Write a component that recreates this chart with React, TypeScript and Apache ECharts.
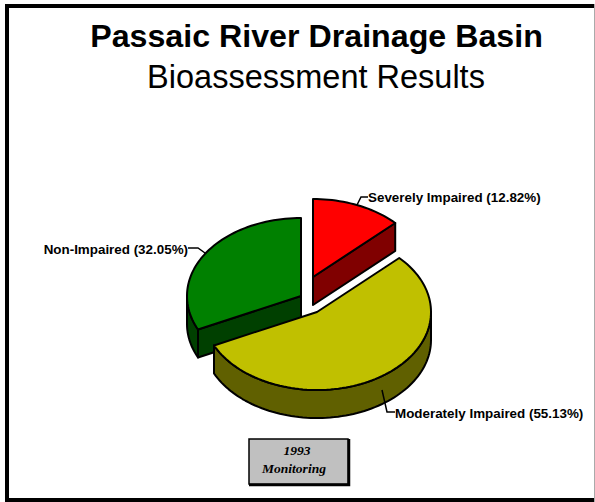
import React, { useEffect, useRef } from "react";
import * as echarts from "echarts";

const titleLine = "Passaic River Drainage Basin";
const subtitleLine = "Bioassessment Results";
const boxLines = ["1993", "Monitoring"];
// clockwise from 12 o'clock
const categories = ["Severely Impaired", "Moderately Impaired", "Non-Impaired"];
const shares = [12.82, 55.13, 32.05];
const topColors = ["#FF0000", "#C0C000", "#008000"];
const wallColors = ["#800000", "#606000", "#004000"];
const paintOrder = [0, 2, 1];

const CX = 317, CY = 312, RX = 114, RY = 78, DEPTH = 28;
const explode = [[-4, -35], [0, 0], [-16, -16]];
const leaders = [
  { pts: [[357, 205], [361, 197], [368, 197]], text: [368, 197], align: "left" },
  { pts: [[382, 390], [387, 412], [395, 412]], text: [395, 413], align: "left" },
  { pts: [[205, 253], [198, 248], [188, 248]], text: [188, 249], align: "right" },
];
const stroke = { stroke: "#000", lineWidth: 2, lineJoin: "round" };

function rim(cx: number, cy: number, a0: number, a1: number) {
  const n = Math.max(2, Math.ceil(Math.abs(a1 - a0) / 2));
  const out: number[][] = [];
  for (let i = 0; i <= n; i++) {
    const t = ((a0 + ((a1 - a0) * i) / n) * Math.PI) / 180;
    out.push([cx + RX * Math.sin(t), cy - RY * Math.cos(t)]);
  }
  return out;
}

const renderSlice = (_params: any, api: any) => {
  const i = api.value(0);
  const start = (api.value(1) / 100) * 360;
  const end = (api.value(2) / 100) * 360;
  const cx = CX + explode[i][0];
  const cy = CY + explode[i][1];
  const children: any[] = [];
  const down = (p: number[]) => [p[0], p[1] + DEPTH];
  const wall = wallColors[i];
  // cut faces that look toward the viewer
  for (const a of [start, end]) {
    const e = rim(cx, cy, a, a)[0];
    const front = (a === end && a < 180) || (a === start && a > 180);
    if (!front) continue;
    children.push({
      type: "polygon",
      shape: { points: [[cx, cy], e, down(e), [cx, cy + DEPTH]] },
      style: { fill: wall, ...stroke },
    });
  }
  // visible outer wall (front half of the rim)
  const a0 = Math.max(start, 90);
  const a1 = Math.min(end, 270);
  if (a1 > a0) {
    const arc = rim(cx, cy, a0, a1);
    children.push({
      type: "polygon",
      shape: { points: [...arc, ...arc.map(down).reverse()] },
      style: { fill: wall, ...stroke },
    });
  }
  children.push({
    type: "polygon",
    shape: { points: [[cx, cy], ...rim(cx, cy, start, end)] },
    style: { fill: topColors[i], ...stroke },
  });
  return { type: "group", children };
};

export default function App() {
  const ref = useRef<HTMLDivElement>(null);
  useEffect(() => {
    document.body.style.margin = "0";
    const chart = echarts.init(ref.current!, undefined, { renderer: "svg" });
    let acc = 0;
    const rows = shares.map((v, i) => {
      const row = [i, acc, acc + v];
      acc += v;
      return row;
    });
    chart.setOption({
      animation: false,
      backgroundColor: "#fff",
      series: [
        {
          type: "custom",
          coordinateSystem: "none",
          renderItem: renderSlice,
          data: paintOrder.map((i) => rows[i]),
          silent: true,
        },
      ],
      graphic: [
        { type: "rect", shape: { x: 5, y: 4, width: 589, height: 4 }, style: { fill: "#000" } },
        { type: "rect", shape: { x: 5, y: 498, width: 589, height: 4 }, style: { fill: "#000" } },
        { type: "rect", shape: { x: 5, y: 4, width: 4, height: 498 }, style: { fill: "#000" } },
        { type: "rect", shape: { x: 594, y: 4, width: 1, height: 498 }, style: { fill: "#AAAAAA" } },
        { type: "text", x: 316.5, y: 36, style: { text: titleLine, fill: "#000", font: "bold 32.2px 'Liberation Sans'", align: "center", verticalAlign: "middle" } },
        { type: "text", x: 316, y: 77, style: { text: subtitleLine, fill: "#000", font: "32.5px 'Liberation Sans'", align: "center", verticalAlign: "middle" } },
        ...leaders.flatMap((l, i) => [
          { type: "polyline", z: 10, shape: { points: l.pts }, style: { fill: "none", stroke: "#000", lineWidth: 1.5 } },
          {
            type: "text", z: 11, x: l.text[0], y: l.text[1],
            style: { text: `${categories[i]} (${shares[i].toFixed(2)}%)`, fill: "#000", font: "bold 13.4px 'Liberation Sans'", align: l.align, verticalAlign: "middle" },
          },
        ]),
        { type: "rect", shape: { x: 249, y: 439, width: 99, height: 45 }, style: { fill: "#C0C0C0", stroke: "#000", lineWidth: 1.5 } },
        { type: "polyline", shape: { points: [[349, 439], [349, 485], [249, 485]] }, style: { fill: "none", stroke: "#000", lineWidth: 2.5 } },
        { type: "text", x: 297, y: 450, style: { text: boxLines[0], fill: "#000", font: "italic bold 13.5px 'Liberation Serif'", align: "center", verticalAlign: "middle" } },
        { type: "text", x: 294, y: 468, style: { text: boxLines[1], fill: "#000", font: "italic bold 13.5px 'Liberation Serif'", align: "center", verticalAlign: "middle" } },
      ],
    });
    return () => chart.dispose();
  }, []);
  return <div ref={ref} style={{ width: 595, height: 502 }} />;
}
